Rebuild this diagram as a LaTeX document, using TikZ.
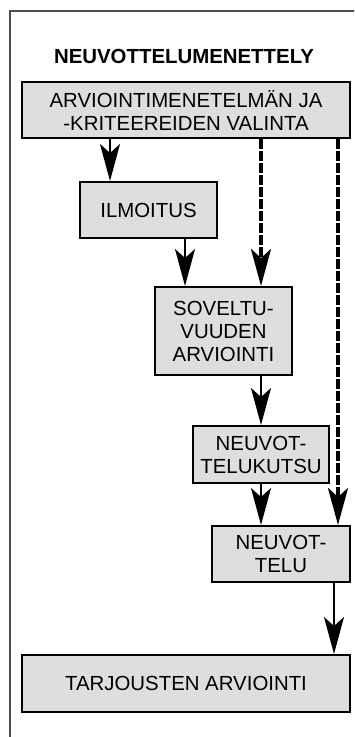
\documentclass[tikz,border=0pt]{standalone}
\usepackage{fontspec}
\setmainfont{Liberation Sans}
\usetikzlibrary{arrows.meta}
\begin{document}
\begin{tikzpicture}[x=1pt,y=-1pt,
  stepbox/.style={draw=black,line width=2pt,fill=black!13,align=center,inner sep=0pt,
    font=\fontsize{20.4}{23}\selectfont},
  arr/.style={line width=2pt,-{Stealth[length=37pt,width=20pt,inset=9pt]}},
  darr/.style={line width=4pt,dash pattern=on 10pt off 2pt,-{Stealth[length=37pt,width=20pt,inset=9pt]}},
  frame/.style={draw=black!70,line width=1.5pt}]
\useasboundingbox (0,0) rectangle (354,737);
\draw[frame] (354,11) -- (10,11) -- (10,737);
\node[font=\fontsize{20.4}{23}\selectfont\bfseries] (title) at (184,56) {NEUVOTTELUMENETTELY};
\node[stepbox,minimum width=328pt,minimum height=56pt] (b1) at (186,110) {ARVIOINTIMENETELMÄN JA\\-KRITEEREIDEN VALINTA};
\node[stepbox,minimum width=137pt,minimum height=56pt] (ilm) at (148.5,210) {ILMOITUS};
\node[stepbox,minimum width=137pt,minimum height=88pt] (sov) at (223.5,331) {SOVELTU-\\VUUDEN\\ARVIOINTI};
\node[stepbox,minimum width=136pt,minimum height=57pt] (kut) at (261,454.5) {NEUVOT-\\TELUKUTSU};
\node[stepbox,minimum width=138pt,minimum height=56pt] (neu) at (281,554) {NEUVOT-\\TELU};
\node[stepbox,minimum width=328pt,minimum height=57pt] (tar) at (186,683.5) {TARJOUSTEN ARVIOINTI};
\coordinate (xa) at (110,0);
\coordinate (xb) at (185,0);
\coordinate (xc) at (261,0);
\coordinate (xd) at (338,0);
\coordinate (xe) at (334,0);
\draw[arr] (b1.south -| xa) -- (ilm.north -| xa);
\draw[arr] (ilm.south -| xb) -- (sov.north -| xb);
\draw[darr] (b1.south -| xc) -- (sov.north -| xc);
\draw[arr] (sov.south -| xc) -- (kut.north -| xc);
\draw[arr] (kut.south -| xc) -- (neu.north -| xc);
\draw[darr] (b1.south -| xd) -- (neu.north -| xd);
\draw[arr] (neu.south -| xe) -- (tar.north -| xe);
\end{tikzpicture}
\end{document}
